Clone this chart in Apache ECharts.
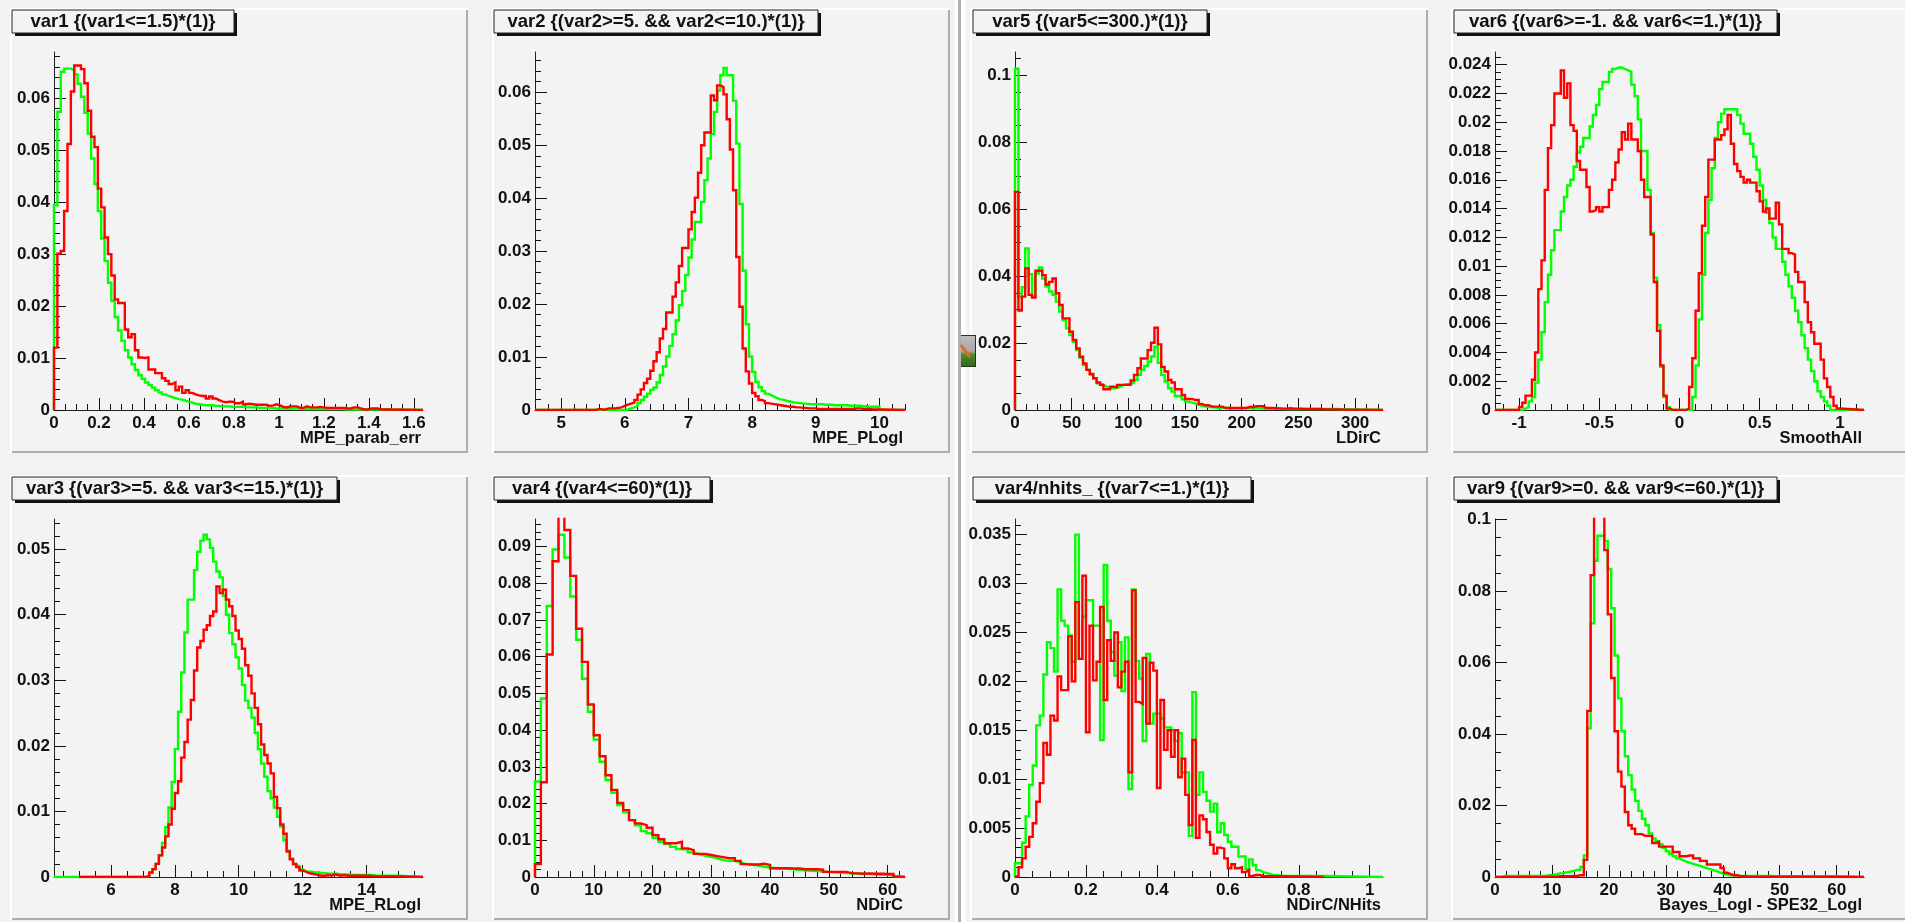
<!DOCTYPE html>
<html>
<head>
<meta charset="utf-8">
<title>var distributions</title>
<style>
  html, body { margin: 0; padding: 0; background: #f2f2f2; }
  #main { width: 1905px; height: 922px; filter: blur(0.4px); }
</style>
<script src="https://cdn.jsdelivr.net/npm/echarts@6/dist/echarts.min.js"></script>
</head>
<body>
<div id="main"></div>
<script>
// var1 : MPE_parab_err, 100 bins of 0.015
const var1Green = [.0394,.0574,.0651,.0657,.0657,.0654,.0646,.0628,.0603,.0572,.0532,.0484,.0435,.0383,.033,.0287,.0245,.021,.0179,.0153,.0133,.0115,.0101,.0088,.0077,.0067,.006,.0053,.0048,.0043,.0038,.0034,.003,.0027,.0025,.0023,.0021,.002,.0018,.0016,.0014,.0012,.0011,.001,.0009,.0009,.0009,.0008,.0008,.0007,.0007,.0007,.0006,.0006,.0006,.0006,.0005,.0005,.0005,.0005,.0004,.0004,.0004,.0004,.0004,.0003,.0003,.0003,.0003,.0003,.0003,.0003,.0003,.0002,.0002,.0002,.0002,.0002,.0002,.0002,.0002,.0002,.0002,.0002,.0002,.0002,.0001,.0001,.0001,.0001,.0001,.0001,.0001,.0001,.0001,.0001,.0001,.0001,.0001]
const var1Red = [.012,.0301,.0306,.0383,.0512,.0613,.0663,.0663,.0656,.0629,.0576,.0526,.0506,.0426,.039,.0332,.03,.0259,.0213,.0206,.0206,.0155,.014,.0146,.0115,.0101,.01,.0101,.0078,.0078,.0071,.0071,.0061,.0056,.005,.0053,.0038,.0045,.0033,.0038,.0033,.003,.0028,.0027,.0027,.0022,.0026,.0022,.0019,.0016,.0015,.0016,.0016,.0013,.0013,.0016,.0011,.0012,.0011,.001,.001,.001,.001,.0008,.0009,.0011,.0009,.0006,.0005,.0007,.0007,.0007,.0004,.0004,.0007,.0005,.0005,.0005,.0006,.0005,.0004,.0004,.0004,.0004,.0004,.0004,.0003,.0003,.0005,.0005,.0003,.0001,.0001,.0003,.0003,.0003,.0001,.0001]

// var2 : MPE_PLogl, 100 bins of 0.05 from 5
const var2Green = [0,0,0,0,0,0,0,0,0,0,0,0,0,0,0,0,0,0,0,0,.0001,.0003,.0005,.0008,.0013,.0019,.0025,.0031,.0038,.0042,.0052,.0066,.0082,.0101,.0121,.0143,.0169,.0198,.0225,.0255,.0288,.0322,.0355,.0355,.0393,.0434,.0475,.0521,.0563,.0603,.0632,.0646,.0632,.0632,.0584,.0503,.0389,.0263,.0162,.0101,.0072,.0053,.0043,.0036,.0031,.0028,.0025,.0022,.002,.0019,.0017,.0016,.0014,.0014,.0013,.0012,.0012,.0011,.0011,.0011,.0011,.0011,.001,.001,.001,.0009,.0009,.0009,.0009,.0009,.0008,.0008,.0008,.0008,.0007,.0007,.0006,.0006,.0006,.0006]
const var2Red = [0,0,0,0,0,0,0,0,0,0,0,.0002,.0001,.0001,.0003,.0003,.0003,.0004,.0005,.0008,.001,.0012,.0014,.0019,.0029,.0039,.0051,.0059,.0074,.0092,.0109,.0135,.0153,.0184,.0184,.0214,.0241,.0272,.0306,.0306,.0341,.0374,.0401,.0448,.05,.0524,.0524,.0594,.0585,.0613,.061,.0596,.0549,.0492,.0415,.0289,.0195,.0116,.0073,.005,.0032,.0026,.0019,.0017,.0013,.0012,.0011,.001,.0009,.0008,.0007,.0006,.0006,.0005,.0005,.0004,.0004,.0003,.0003,.0003,.0002,.0002,.0002,.0002,.0002,.0002,.0002,.0002,.0002,.0002,.0002,.0002,.0003,.0003,.0002,.0002,.0002,.0001,.0001,.0001]

// var3 : MPE_RLogl, 100 bins of 0.1 from 5
const var3Green = [0,0,0,0,0,0,0,0,0,0,0,0,0,0,0,0,0,0,0,0,0,.0002,.0006,.0012,.002,.0033,.0052,.0076,.0106,.0145,.0195,.0252,.0312,.0373,.0423,.0423,.0468,.0496,.0513,.0522,.0515,.0502,.0481,.0466,.0457,.0429,.04,.0372,.0355,.0335,.0318,.0293,.0269,.0258,.0243,.022,.0195,.0173,.0153,.0131,.012,.0106,.0092,.0077,.0056,.004,.0028,.0019,.0016,.0012,.0009,.0008,.0008,.0007,.0007,.0006,.0006,.0005,.0005,.0005,.0005,.0004,.0004,.0004,.0004,.0003,.0003,.0003,.0003,.0003,.0003,.0003,.0002,.0002,.0002,.0002,.0002,.0002,.0002,.0002]
const var3Red = [0,0,0,0,0,0,0,0,0,0,0,0,0,0,0,0,0,0,0,0,0,.0002,.0007,.0012,.002,.0033,.0045,.0062,.008,.0104,.0128,.0146,.0182,.0206,.024,.027,.0315,.035,.036,.0377,.0384,.0398,.0405,.0443,.0433,.0438,.0423,.0413,.0398,.0376,.0363,.0348,.0323,.0307,.028,.0258,.0233,.0202,.0186,.0173,.0158,.0122,.0105,.008,.0066,.0039,.0027,.002,.0015,.001,.0008,.0006,.0005,.0004,.0003,.0002,.0002,.0003,.0002,.0004,.0003,.0002,.0003,.0002,.0002,.0002,.0002,.0002,.0002,.0002,.0002,.0001,.0001,.0001,.0001,.0001,.0001,.0001,.0001,.0001]

// var4 : NDirC, bins of 1
const var4Green = [.026,.0486,.0738,.0892,.0932,.087,.0764,.0646,.054,.045,.0374,.0314,.0264,.0229,.0196,.0176,.0155,.0141,.0125,.0119,.0107,.0096,.009,.0082,.0076,.0075,.0067,.0062,.0058,.0055,.0051,.0046,.0044,.0044,.004,.0035,.0033,.0031,.0028,.0026,.0024,.0023,.0022,.0021,.0019,.0018,.0017,.0016,.0015,.0014,.0013,.0012,.0011,.001,.0009,.0008,.0008,.0007,.0006,.0006,.0003]
const var4Red = [.0035,.0258,.0606,.086,.104,.0945,.082,.0676,.0586,.047,.0386,.0329,.0277,.0237,.0202,.0182,.0155,.0146,.0141,.0134,.0114,.0103,.0092,.0092,.0096,.0078,.0073,.0063,.0063,.006,.0057,.0054,.0051,.0051,.0044,.0035,.0034,.0034,.0036,.0033,.0024,.0024,.0024,.0023,.0023,.0021,.0021,.0021,.002,.0014,.0014,.0014,.0014,.001,.001,.0009,.001,.0009,.0009,.0008,.0008,.0001]

// var5 : LDirC, 100 bins of 3
const var5Green = [.102,.0339,.0367,.0483,.0406,.0339,.0408,.0426,.0393,.0369,.0354,.0344,.0324,.0294,.0269,.0244,.0224,.0204,.0179,.0157,.0134,.012,.0105,.0095,.008,.0075,.007,.0067,.0065,.0067,.007,.0075,.0077,.0077,.0082,.009,.0105,.012,.0132,.0145,.016,.0189,.0141,.0105,.0085,.0065,.0055,.0042,.004,.0032,.0025,.0022,.002,.0016,.0012,.001,.0009,.0008,.0007,.0006,.0006,.0006,.0006,.0005,.0005,.0005,.0005,.0005,.0005,.0005,.0005,.0004,.0004,.0004,.0004,.0004,.0004,.0004,.0003,.0003,.0003,.0003,.0003,.0003,.0003,.0003,.0003,.0003,.0003,.0003,.0003,.0003,.0003,.0003,.0003,.0002,.0002,.0002,.0002,.0002]
const var5Red = [.0652,.0297,.0339,.0423,.0344,.0336,.0416,.0416,.0403,.0375,.0383,.0393,.0349,.0314,.0274,.0274,.0234,.0209,.0184,.0159,.0139,.012,.0108,.0095,.0082,.0075,.0062,.0062,.007,.0068,.0075,.0075,.0075,.0075,.0088,.0105,.0125,.0154,.0154,.0179,.0201,.0246,.0196,.0129,.0115,.009,.0082,.0062,.0062,.0045,.0033,.0033,.003,.003,.0018,.0014,.0014,.001,.001,.001,.001,.0006,.0006,.0006,.0006,.0006,.0006,.0006,.0009,.0009,.0011,.0011,.0011,.0006,.0006,.0006,.0005,.0005,.0004,.0004,.0005,.0004,.0004,.0004,.0003,.0003,.0003,.0003,.0003,.0003,.0002,.0002,.0002,.0002,.0002,.0002,.0001,.0001,.0001,.0001]

// var6 : SmoothAll, 100 bins of 0.02 from -1
const var6Green = [0,.0001,.0002,.0006,.0009,.0019,.0035,.0054,.0075,.0094,.0111,.0125,.0125,.0138,.0148,.0156,.016,.0169,.0179,.0183,.0189,.0189,.0197,.0205,.0212,.0223,.0228,.0228,.0235,.0237,.0238,.0238,.0237,.0236,.0235,.0226,.0218,.0202,.018,.018,.0153,.0123,.0092,.0059,.003,.0009,.0002,0,0,0,0,0,0,0,.0009,.0031,.0063,.0094,.0123,.0146,.0168,.0189,.02,.0206,.0209,.0209,.0209,.0209,.0205,.0199,.0192,.0192,.0185,.0176,.0167,.0156,.0146,.0137,.013,.012,.0112,.0112,.0103,.0094,.0086,.0078,.0069,.0061,.0052,.0043,.0035,.0027,.002,.0013,.0009,.0006,.0003,0,0,0]
const var6Red = [.0002,.0005,.001,.001,.0021,.004,.0084,.0104,.0153,.0182,.0198,.022,.022,.0236,.0217,.0227,.0198,.0194,.0173,.0167,.0167,.0155,.0138,.0139,.0141,.0138,.0141,.0141,.0153,.016,.0172,.0181,.0193,.0188,.0199,.0188,.0188,.018,.016,.0148,.0148,.0122,.0089,.0055,.0031,.001,.0001,0,0,0,0,0,.0001,.0016,.0036,.0069,.0095,.0128,.0148,.0174,.0174,.0188,.0188,.0191,.0195,.0205,.0185,.0171,.0166,.0162,.0158,.016,.0158,.0158,.0152,.0145,.0138,.014,.0133,.0133,.0144,.0129,.0112,.0112,.0109,.0108,.0096,.0089,.0089,.0075,.0061,.0054,.0046,.0046,.0035,.0022,.0016,.0009,.0003,.0001]

// var7 : NDirC/NHits, bins of 0.01
const var7Green = [.0014,.0014,.0035,.0062,.0094,.0114,.0155,.0165,.0207,.024,.0234,.021,.0294,.0262,.0257,.0247,.022,.035,.0223,.0266,.0283,.0283,.0257,.0257,.014,.0319,.0262,.023,.0206,.024,.019,.0245,.009,.0294,.0221,.0203,.0139,.0228,.0157,.0167,.0167,.0162,.0153,.0153,.015,.0139,.0147,.0107,.0107,.0042,.0189,.0084,.0107,.0087,.0078,.0067,.0075,.0046,.0055,.0043,.0036,.0031,.0031,.0021,.0021,.0008,.0018,.0012,.0007,.0005,.0004,.0003,.0002,.0002,.0001,.0001,.0001,.0001,.0001,.0001,.0001,.0001,.0001,.0001,.0001,.0001,.0001]
const var7Red = [.0001,.001,.0019,.0031,.0041,.0055,.0077,.0096,.0137,.0125,.0165,.016,.0205,.0191,.0191,.0246,.02,.0281,.0223,.0308,.0148,.0257,.0201,.022,.0276,.0181,.0242,.0221,.025,.0194,.021,.022,.0107,.0293,.0179,.0177,.0224,.0157,.0219,.0211,.0091,.0181,.013,.015,.0123,.015,.0102,.0121,.0084,.0053,.014,.004,.0063,.0059,.0046,.0033,.0024,.003,.0029,.0019,.0009,.0013,.0009,.001,.0005,.0007,.0001,.0002,.0002,.0001]

// var9 : Bayes_Logl - SPE32_Logl, 100 bins of 0.6
const var9Green = [0,0,.0003,.0003,.0003,.0003,.0003,.0003,.0003,.0003,.0003,.0003,.0003,.0003,.0004,.0005,.0006,.0008,.001,.0011,.0013,.0015,.0017,.002,.002,.0028,.006,.0416,.071,.0885,.0955,.0955,.094,.0862,.0752,.062,.05,.0408,.0338,.0285,.0245,.0213,.0185,.0163,.0145,.0122,.0108,.01,.0092,.0082,.0072,.0065,.0058,.0052,.0047,.0043,.004,.0037,.0034,.0031,.0028,.0025,.0022,.0019,.0016,.0012,.0009,.0006,.0005,.0004,.0004,.0003,.0003,.0003,.0003,.0003,.0003,.0003,.0003,.0003,.0003,.0002,.0002,.0002,.0002,.0002,.0002,.0002,.0002,.0002,.0002,.0002,.0002,.0002,.0002,.0002,.0002,.0002,.0002,.0002]
const var9Red = [0,0,0,0,0,0,0,0,0,0,0,0,0,0,0,.0001,.0001,.0001,.0002,.0002,.0002,.0002,.0003,.0003,.0005,.0005,.0048,.0465,.0845,.104,.115,.11,.0915,.0735,.0557,.0408,.0295,.0253,.0182,.0145,.0135,.012,.012,.0115,.0115,.0115,.0095,.0098,.0085,.0085,.0085,.0085,.007,.007,.0058,.0058,.006,.006,.0052,.0052,.0045,.0045,.0035,.0035,.0035,.0035,.0025,.0012,.0008,.0005,.0005,.0002,.0002,.0001,.0001,.0001,.0001,.0001,.0001,.0001,.0001,.0001,.0001,.0001,.0001,.0001,.0001,.0001]

// tick labels
const var1XTicks = [0, .2, .4, .6, .8, 1, 1.2, 1.4, 1.6]
const var1YTicks = [0, .01, .02, .03, .04, .05, .06]
const var2XTicks = [5, 6, 7, 8, 9, 10]
const var2YTicks = [0, .01, .02, .03, .04, .05, .06]
const var5XTicks = [0, 50, 100, 150, 200, 250, 300]
const var5YTicks = [0, .02, .04, .06, .08, .1]
const var6XTicks = [-1, -.5, 0, .5, 1]
const var6YTicks = [0, .002, .004, .006, .008, .01, .012, .014, .016, .018, .02, .022, .024]
const var3XTicks = [6, 8, 10, 12, 14]
const var3YTicks = [0, .01, .02, .03, .04, .05]
const var4XTicks = [0, 10, 20, 30, 40, 50, 60]
const var4YTicks = [0, .01, .02, .03, .04, .05, .06, .07, .08, .09]
const var7XTicks = [0, .2, .4, .6, .8, 1]
const var7YTicks = [0, .005, .01, .015, .02, .025, .03, .035]
const var9XTicks = [0, 10, 20, 30, 40, 50, 60]
const var9YTicks = [0, .02, .04, .06, .08, .1]

const panels = [
  { title: 'var1 {(var1<=1.5)*(1)}', xName: 'MPE_parab_err', green: var1Green, red: var1Red, binStart: 0, binWidth: .015,
    xRange: [0, 1.641], yMax: .0689, xTicks: var1XTicks, yTicks: var1YTicks, xMinor: .05, yMinor: .002,
    frame: [10, 8, 458, 445], plot: [54, 52, 369, 358], titleBox: [12, 10, 222, 23] },
  { title: 'var2 {(var2>=5. && var2<=10.)*(1)}', xName: 'MPE_PLogl', green: var2Green, red: var2Red, binStart: 5, binWidth: .05,
    xRange: [4.59, 10.4], yMax: .0676, xTicks: var2XTicks, yTicks: var2YTicks, xMinor: .2, yMinor: .002,
    frame: [492, 8, 458, 445], plot: [535, 52, 370, 358], titleBox: [494, 10, 324, 23] },
  { title: 'var5 {(var5<=300.)*(1)}', xName: 'LDirC', green: var5Green, red: var5Red, binStart: 0, binWidth: 3,
    xRange: [0, 324.6], yMax: .107, xTicks: var5XTicks, yTicks: var5YTicks, xMinor: 10, yMinor: .005,
    frame: [970, 8, 458, 445], plot: [1015, 52, 368, 358], titleBox: [973, 10, 234, 23] },
  { title: 'var6 {(var6>=-1. && var6<=1.)*(1)}', xName: 'SmoothAll', green: var6Green, red: var6Red, binStart: -1, binWidth: .02,
    xRange: [-1.15, 1.15], yMax: .02488, xTicks: var6XTicks, yTicks: var6YTicks, xMinor: .1, yMinor: .0005,
    frame: [1451, 8, 460, 445], plot: [1495, 52, 369, 358], titleBox: [1454, 10, 323, 23] },
  { title: 'var3 {(var3>=5. && var3<=15.)*(1)}', xName: 'MPE_RLogl', green: var3Green, red: var3Red, binStart: 5, binWidth: .1,
    xRange: [4.215, 15.77], yMax: .0546, xTicks: var3XTicks, yTicks: var3YTicks, xMinor: .5, yMinor: .002,
    frame: [10, 475, 458, 445], plot: [54, 519, 369, 358], titleBox: [12, 477, 325, 23], redFrom: 5.6 },
  { title: 'var4 {(var4<=60)*(1)}', xName: 'NDirC', green: var4Green, red: var4Red, binStart: 0, binWidth: 1,
    xRange: [0, 62.95], yMax: .0975, xTicks: var4XTicks, yTicks: var4YTicks, xMinor: 2, yMinor: .002,
    frame: [492, 475, 458, 445], plot: [535, 519, 370, 358], titleBox: [494, 477, 216, 23] },
  { title: 'var4/nhits_ {(var7<=1.)*(1)}', xName: 'NDirC/NHits', green: var7Green, red: var7Red, binStart: 0, binWidth: .01,
    xRange: [0, 1.0375], yMax: .0366, xTicks: var7XTicks, yTicks: var7YTicks, xMinor: .05, yMinor: .001,
    frame: [970, 475, 458, 445], plot: [1015, 519, 368, 358], titleBox: [973, 477, 278, 23], redTo: .87 },
  { title: 'var9 {(var9>=0. && var9<=60.)*(1)}', xName: 'Bayes_Logl - SPE32_Logl', green: var9Green, red: var9Red, binStart: 0, binWidth: .6,
    xRange: [0, 64.8], yMax: .1002, xTicks: var9XTicks, yTicks: var9YTicks, xMinor: 2, yMinor: .005,
    frame: [1451, 475, 460, 445], plot: [1495, 519, 369, 358], titleBox: [1454, 477, 323, 23] }
]

const FONT = '"Liberation Sans", Arial, sans-serif'
const fmt = (v) => String(Number(v.toFixed(5)))

// ticks that are not labelled, counted out from the first multiple of the step
function minorTicks(start, end, step) {
  const first = Math.ceil(start / step - 1e-9)
  const out = []
  for (let i = first; i * step <= end + 1e-9; i++) {
    out.push(Number((i * step).toFixed(6)))
  }
  return out
}

// step histogram outline: baseline from the axis edge, then the bins, back down and on to the far edge
function histPoints(values, binStart, binWidth, from, to) {
  const pts = [[from, 0]]
  values.forEach((v, i) => pts.push([binStart + i * binWidth, v]))
  pts.push([binStart + values.length * binWidth, 0])
  pts.push([to, 0])
  return pts
}

const grid = []
const xAxis = []
const yAxis = []
const series = []
const graphic = []

// divider between the two halves
graphic.push({ type: 'rect', silent: true, z: 0, shape: { x: 955, y: 0, width: 11, height: 922 }, style: { fill: '#ffffff' } })
graphic.push({ type: 'rect', silent: true, z: 0, shape: { x: 958, y: 0, width: 3, height: 922 }, style: { fill: '#b0b0b0' } })

panels.forEach((p, k) => {
  const [fx, fy, fw, fh] = p.frame
  const [bx, by, bw, bh] = p.titleBox
  const [px, py, pw, ph] = p.plot

  graphic.push(
    { type: 'rect', silent: true, z: 0, shape: { x: fx, y: fy, width: fw, height: fh }, style: { fill: '#ffffff' } },
    { type: 'rect', silent: true, z: 0, shape: { x: fx + 2, y: fy + 2, width: fw - 2, height: fh - 2 }, style: { fill: '#adadad' } },
    { type: 'rect', silent: true, z: 0, shape: { x: fx + 2, y: fy + 2, width: fw - 4, height: fh - 4 }, style: { fill: '#f3f3f3' } },
    { type: 'rect', silent: true, z: 1, shape: { x: bx + 3, y: by + 3, width: bw, height: bh }, style: { fill: '#111111' } },
    { type: 'rect', silent: true, z: 2, shape: { x: bx, y: by, width: bw, height: bh }, style: { fill: '#f3f3f3', stroke: '#222222', lineWidth: 1 } },
    { type: 'text', silent: true, z: 3, style: { x: bx + bw / 2, y: by + bh / 2, text: p.title, align: 'center', verticalAlign: 'middle', fill: '#111111', font: 'bold 18.5px ' + FONT } },
    { type: 'text', silent: true, z: 3, style: { x: px + pw - 2, y: py + ph + 28, text: p.xName, align: 'right', verticalAlign: 'middle', fill: '#111111', font: 'bold 16.5px ' + FONT } }
  )

  grid.push({ left: px, top: py, width: pw, height: ph, outerBoundsMode: 'none', show: true, borderColor: '#444444', borderWidth: 2, backgroundColor: 'transparent' })

  const axisBase = { gridIndex: k, type: 'value', splitLine: { show: false } }
  const minorX = minorTicks(p.xRange[0], p.xRange[1], p.xMinor)
  const minorY = minorTicks(0, p.yMax, p.yMinor)

  xAxis.push({
    ...axisBase, position: 'bottom', min: p.xRange[0], max: p.xRange[1],
    axisLine: { show: true, onZero: false, lineStyle: { color: '#222222', width: 1 } },
    axisTick: { show: true, inside: true, length: 12, customValues: p.xTicks, lineStyle: { color: '#111111', width: 1 } },
    axisLabel: { show: true, customValues: p.xTicks, margin: 5, formatter: fmt, showMinLabel: true, showMaxLabel: true, hideOverlap: false, color: '#111111', fontFamily: FONT, fontWeight: 'bold', fontSize: 17 }
  }, {
    ...axisBase, position: 'bottom', min: p.xRange[0], max: p.xRange[1],
    axisLine: { show: false, onZero: false },
    axisTick: { show: true, inside: true, length: 6, customValues: minorX, lineStyle: { color: '#111111', width: 1 } },
    axisLabel: { show: false }
  })
  yAxis.push({
    ...axisBase, position: 'left', min: 0, max: p.yMax,
    axisLine: { show: true, onZero: false, lineStyle: { color: '#222222', width: 1 } },
    axisTick: { show: true, inside: true, length: 12, customValues: p.yTicks, lineStyle: { color: '#111111', width: 1 } },
    axisLabel: { show: true, customValues: p.yTicks, margin: 4, formatter: fmt, showMinLabel: true, showMaxLabel: true, hideOverlap: false, color: '#111111', fontFamily: FONT, fontWeight: 'bold', fontSize: 17 }
  }, {
    ...axisBase, position: 'left', min: 0, max: p.yMax,
    axisLine: { show: false, onZero: false },
    axisTick: { show: true, inside: true, length: 6, customValues: minorY, lineStyle: { color: '#111111', width: 1 } },
    axisLabel: { show: false }
  })

  const ax = k * 2
  const lineSeries = (name, color, values, from, to) => ({
    name, type: 'line', xAxisIndex: ax, yAxisIndex: ax, step: 'end', showSymbol: false, silent: true, clip: true,
    lineStyle: { color, width: 2.4, join: 'miter' },
    data: histPoints(values, p.binStart, p.binWidth, from, to)
  })
  series.push(
    lineSeries('green', '#00ff00', p.green, p.greenFrom ?? p.xRange[0], p.xRange[1]),
    lineSeries('red', '#ff0000', p.red, p.redFrom ?? p.xRange[0], p.redTo ?? p.xRange[1])
  )
})

// small thumbnail stuck on the divider
graphic.push(
  { type: 'rect', silent: true, z: 5, shape: { x: 961, y: 335, width: 15, height: 32 }, style: { fill: '#1c3a14' } },
  { type: 'rect', silent: true, z: 6, shape: { x: 961, y: 336, width: 14, height: 30 }, style: { fill: { type: 'linear', x: 0, y: 0, x2: 0, y2: 1, colorStops: [{ offset: 0, color: '#bdbdbd' }, { offset: .5, color: '#a8a8a8' }, { offset: .62, color: '#4f8a2a' }, { offset: 1, color: '#2f6a1e' }] } } },
  { type: 'polyline', silent: true, z: 7, shape: { points: [[961, 345], [966, 352], [970, 357]] }, style: { stroke: '#e06a20', lineWidth: 3, fill: null } }
)

const chart = echarts.init(document.getElementById('main'), null, { renderer: 'canvas' })
chart.setOption({
  animation: false,
  backgroundColor: '#f2f2f2',
  tooltip: { show: false },
  grid,
  xAxis,
  yAxis,
  series,
  graphic
})
</script>
</body>
</html>
